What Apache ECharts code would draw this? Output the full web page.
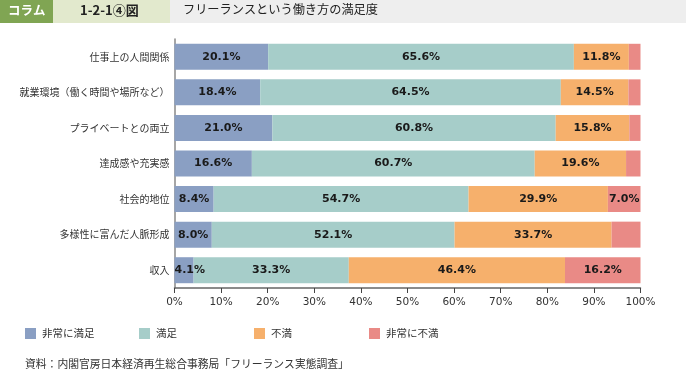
<!DOCTYPE html>
<html>
<head>
<meta charset="utf-8">
<script src="https://cdn.jsdelivr.net/npm/echarts@6/dist/echarts.min.js"></script>
<style>
html,body{margin:0;padding:0;background:#fff;}
#chart{width:686px;height:373px;}
</style>
</head>
<body>
<div id="chart"></div>
<script>
const categories = ['仕事上の人間関係','就業環境（働く時間や場所など）','プライベートとの両立','達成感や充実感','社会的地位','多様性に富んだ人脈形成','収入'];
const seriesNames = ['非常に満足','満足','不満','非常に不満'];
const verySatisfied = [20.1, 18.4, 21.0, 16.6, 8.4, 8.0, 4.1];
const satisfied = [65.6, 64.5, 60.8, 60.7, 54.7, 52.1, 33.3];
const dissatisfied = [11.8, 14.5, 15.8, 19.6, 29.9, 33.7, 46.4];
const veryDissatisfied = [2.5, 2.6, 2.4, 3.1, 7.0, 6.2, 16.2];
const tickValues = [0,10,20,30,40,50,60,70,80,90,100];

const colors = ['#8a9fc3','#a6cdc9','#f6b06c','#e98a86'];
const font = '"Noto Sans CJK JP", "Noto Sans", sans-serif';
const numFont = '"DejaVu Sans", Verdana, sans-serif';

const seriesData = [verySatisfied, satisfied, dissatisfied, veryDissatisfied];

function buildData(arr, idx) {
  return arr.map(v => {
    const lbl = { show: !(idx === 3 && v < 7) };
    if (idx === 0 && v < 5) { lbl.position = 'insideLeft'; lbl.distance = 0; }
    return { value: v, label: lbl };
  });
}

const chart = echarts.init(document.getElementById('chart'), null, {renderer: 'canvas'});
const legendX = [25, 139, 254, 369];

const option = {
  animation: false,
  backgroundColor: '#fff',
  graphic: [
    { type: 'rect', shape: { x: 0, y: 0, width: 53, height: 23 }, style: { fill: '#80a553' }, silent: true },
    { type: 'rect', shape: { x: 53, y: 0, width: 117, height: 23 }, style: { fill: '#e2e9cd' }, silent: true },
    { type: 'rect', shape: { x: 170, y: 0, width: 516, height: 23 }, style: { fill: '#eeeeee' }, silent: true },
    { type: 'text', left: 8, top: 4, style: { text: 'コラム', fill: '#fff', font: 'bold 12.5px ' + font } },
    { type: 'text', left: 80, top: 4, style: { text: '1-2-1④図', fill: '#222', font: 'bold 13px ' + font } },
    { type: 'text', left: 183, top: 3, style: { text: 'フリーランスという働き方の満足度', fill: '#222', font: '12.2px ' + font } },
    { type: 'text', left: 25, top: 359, style: { text: '資料：内閣官房日本経済再生総合事務局「フリーランス実態調査」', fill: '#333', font: '10.8px ' + font } }
  ],
  legend: seriesNames.map((n, i) => ({
    data: [n],
    left: legendX[i],
    top: 328,
    padding: 0,
    icon: 'rect',
    itemWidth: 11,
    itemHeight: 11,
    itemGap: 6,
    selectedMode: false,
    textStyle: { fontSize: 10.5, color: '#333', fontFamily: font, padding: [0,0,0,1] }
  })),
  grid: { left: 174.5, right: 45.5, top: 39, bottom: 85, containLabel: false },
  xAxis: [
    {
      type: 'value', min: 0, max: 100, interval: 10,
      axisLine: { show: false },
      axisTick: { show: true, length: 5, lineStyle: { color: '#444', width: 1 } },
      axisLabel: { formatter: v => tickValues.includes(v) ? v + '%' : '', color: '#333', fontSize: 10.5, fontFamily: numFont, margin: 9 },
      splitLine: { show: false }
    },
    {
      type: 'value', min: 0, max: 104.8, position: 'bottom',
      axisLine: { show: true, lineStyle: { color: '#666', width: 1.5 } },
      axisTick: { show: false },
      axisLabel: { show: false },
      splitLine: { show: false }
    }
  ],
  yAxis: {
    type: 'category', data: categories, inverse: true,
    axisLine: { show: true, lineStyle: { color: '#888', width: 1.5 } },
    axisTick: { show: false },
    axisLabel: { color: '#333', fontSize: 10, fontFamily: font, margin: 5 }
  },
  series: seriesNames.map((n, i) => ({
    name: n,
    type: 'bar',
    stack: 'total',
    xAxisIndex: 0,
    barWidth: 26,
    itemStyle: { color: colors[i] },
    label: {
      show: true, position: 'inside',
      formatter: p => p.value.toFixed(1) + '%',
      color: '#1a1a1a', fontSize: 11, fontWeight: 'bold', fontFamily: numFont
    },
    data: buildData(seriesData[i], i)
  }))
};
chart.setOption(option);
</script>
</body>
</html>
